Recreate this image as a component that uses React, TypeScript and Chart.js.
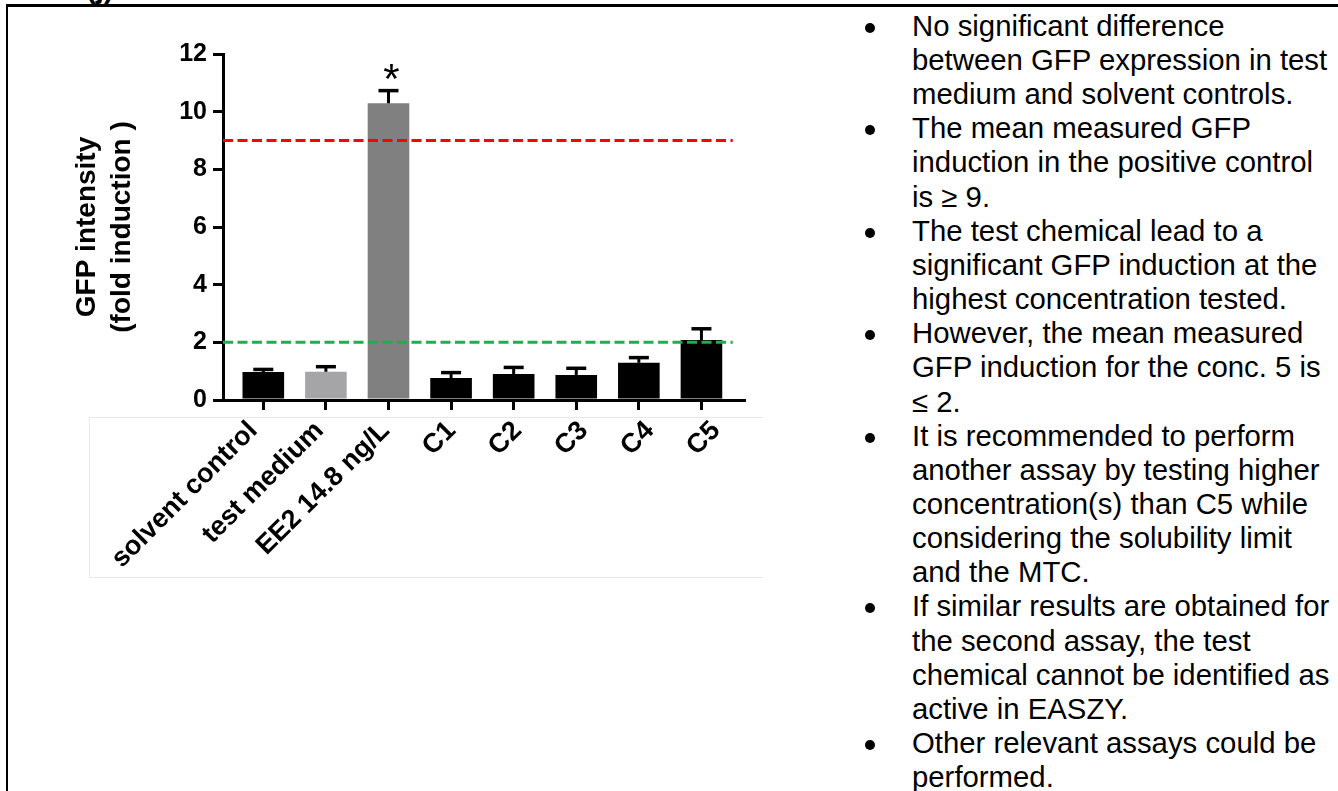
import React, { useEffect, useRef } from "react";
import { Chart, registerables } from "chart.js";

Chart.register(...registerables);

// ---- data ----
const categories = ["solvent control", "test medium", "EE2 14.8 ng/L", "C1", "C2", "C3", "C4", "C5"];
const meanValues = [0.97, 0.98, 10.29, 0.76, 0.9, 0.87, 1.29, 2.08];
const errorValues = [0.09, 0.175, 0.44, 0.19, 0.23, 0.23, 0.18, 0.39];
const barColors = ["#000000", "#a5a5a8", "#808080", "#000000", "#000000", "#000000", "#000000", "#000000"];
const significance = ["", "", "*", "", "", "", "", ""];
const yTicks = [0, 2, 4, 6, 8, 10, 12];
const thresholdValues = [9, 2];
const thresholdColors = ["#ff0000", "#1fae4b"];
const yTitle = ["GFP intensity", "(fold induction )"];

const notes: string[][] = [
  ["No significant difference", "between GFP expression in test", "medium and solvent controls."],
  ["The mean measured GFP", "induction in the positive control", "is \u2265 9."],
  ["The test chemical lead to a", "significant GFP induction at the", "highest concentration tested."],
  ["However, the mean measured", "GFP induction for the conc. 5 is", "\u2264 2."],
  [
    "It is recommended to perform",
    "another assay by testing higher",
    "concentration(s) than C5 while",
    "considering the solubility limit",
    "and the MTC.",
  ],
  ["If similar results are obtained for", "the second assay, the test", "chemical cannot be identified as", "active in EASZY."],
  ["Other relevant assays could be", "performed."],
];

const FONT = "'Liberation Sans', Arial, sans-serif";
// bar axis range
const X_MIN = -0.644;
const X_MAX = 7.68;
// label axis range (the category labels in the picture are spread slightly wider than the bars)
const LABEL_MIN = -0.458;
const LABEL_MAX = 7.424;
const LINE_END = 7.5;

const errorBarPlugin = {
  id: "errorBars",
  afterDatasetsDraw(chart: any) {
    const ctx = chart.ctx;
    const meta = chart.getDatasetMeta(0);
    const yScale = chart.scales.y;
    ctx.save();
    ctx.strokeStyle = "#000";
    ctx.lineCap = "butt";
    meta.data.forEach((bar: any, i: number) => {
      const top = yScale.getPixelForValue(meanValues[i]);
      const capY = yScale.getPixelForValue(meanValues[i] + errorValues[i]);
      ctx.lineWidth = 3;
      ctx.beginPath();
      ctx.moveTo(bar.x, top);
      ctx.lineTo(bar.x, capY);
      ctx.stroke();
      ctx.lineWidth = 3.5;
      ctx.beginPath();
      ctx.moveTo(bar.x - 10, capY);
      ctx.lineTo(bar.x + 10, capY);
      ctx.stroke();
      if (significance[i]) {
        ctx.font = `42px ${FONT}`;
        ctx.fillStyle = "#000";
        ctx.textAlign = "center";
        ctx.textBaseline = "alphabetic";
        const m = ctx.measureText(significance[i]);
        const cy = capY - 19;
        const base = cy + (m.actualBoundingBoxAscent - m.actualBoundingBoxDescent) / 2;
        ctx.fillText(significance[i], bar.x + 3, base);
      }
    });
    ctx.restore();
  },
};

function BarChart() {
  const ref = useRef<HTMLCanvasElement | null>(null);
  useEffect(() => {
    if (!ref.current) return;
    const chart = new Chart(ref.current, {
      type: "bar",
      data: {
        datasets: [
          {
            type: "bar",
            xAxisID: "x",
            yAxisID: "y",
            data: categories.map((_, i) => ({ x: i, y: meanValues[i] })),
            backgroundColor: barColors,
            borderWidth: 0,
            barPercentage: 0.665,
            categoryPercentage: 1,
            order: 2,
          } as any,
          ...thresholdValues.map((v, k) => ({
            type: "line",
            xAxisID: "x",
            yAxisID: "y",
            data: [
              { x: X_MIN, y: v },
              { x: LINE_END, y: v },
            ],
            borderColor: thresholdColors[k],
            borderWidth: 3,
            borderDash: [10, 4.5],
            pointRadius: 0,
            fill: false,
            order: 1,
          })) as any[],
        ],
      },
      options: {
        animation: false,
        responsive: false,
        maintainAspectRatio: false,
        layout: { padding: { left: 0, top: 54, right: 56, bottom: 0 } },
        plugins: { legend: { display: false }, tooltip: { enabled: false } },
        scales: {
          x: {
            type: "linear",
            position: "bottom",
            weight: 0,
            min: X_MIN,
            max: X_MAX,
            offset: false,
            afterBuildTicks: (s: any) => {
              s.ticks = categories.map((_, i) => ({ value: i }));
            },
            afterFit: (s: any) => {
              s.height = 12;
            },
            ticks: { display: false },
            grid: {
              display: true,
              offset: false,
              drawOnChartArea: false,
              drawTicks: true,
              tickLength: 10,
              color: "#000",
              lineWidth: 3,
            },
            border: { display: true, color: "#000", width: 3 },
          },
          xLabels: {
            type: "linear",
            position: "bottom",
            weight: 1,
            min: LABEL_MIN,
            max: LABEL_MAX,
            offset: false,
            afterBuildTicks: (s: any) => {
              s.ticks = categories.map((_, i) => ({ value: i }));
            },
            afterFit: (s: any) => {
              s.height = 188;
            },
            ticks: {
              autoSkip: false,
              maxRotation: 45,
              minRotation: 45,
              color: "#000",
              padding: 3,
              font: { family: FONT, size: 27, weight: "bold" },
              callback: (v: any) => categories[v] ?? "",
            },
            grid: { display: false, drawTicks: false, drawOnChartArea: false },
            border: { display: false },
          },
          y: {
            type: "linear",
            min: 0,
            max: 12,
            afterBuildTicks: (s: any) => {
              s.ticks = yTicks.map((v) => ({ value: v }));
            },
            afterFit: (s: any) => {
              s.width = 223;
            },
            ticks: {
              color: "#000",
              padding: 6,
              font: { family: FONT, size: 25, weight: "bold" },
            },
            grid: { display: true, drawOnChartArea: false, drawTicks: true, tickLength: 10, color: "#000", lineWidth: 3 },
            border: { display: true, color: "#000", width: 3 },
            title: {
              display: true,
              text: yTitle,
              color: "#000",
              font: { family: FONT, size: 28, weight: "bold", lineHeight: 1.25 },
              padding: { top: 69.5, bottom: 0 },
            },
          },
        },
      } as any,
      plugins: [errorBarPlugin],
    });
    return () => chart.destroy();
  }, []);
  return (
    <canvas
      ref={ref}
      width={800}
      height={600}
      style={{ position: "absolute", left: 0, top: 0, width: 800, height: 600, display: "block" }}
    />
  );
}

export default function App() {
  return (
    <div
      style={{
        position: "fixed",
        left: 0,
        top: 0,
        width: 1338,
        height: 791,
        overflow: "hidden",
        background: "#fff",
        fontFamily: FONT,
      }}
    >
      {/* faint picture frame */}
      <div style={{ position: "absolute", left: 89, top: 417, width: 674, height: 1, background: "#e8e8e8" }} />
      <div style={{ position: "absolute", left: 89, top: 577, width: 674, height: 1, background: "#e8e8e8" }} />
      <div style={{ position: "absolute", left: 89, top: 417, width: 1, height: 161, background: "#e8e8e8" }} />
      {/* table frame */}
      <div style={{ position: "absolute", left: 6, top: 4, width: 1332, height: 2.5, background: "#000" }} />
      <div style={{ position: "absolute", left: 6, top: 4, width: 2, height: 787, background: "#000" }} />
      <div
        style={{
          position: "absolute",
          left: 86,
          top: -27,
          fontSize: 29.33,
          lineHeight: "29.33px",
          fontWeight: "bold",
          whiteSpace: "nowrap",
        }}
      >
        (j)
      </div>
      <BarChart />
      <div
        style={{
          position: "absolute",
          left: 912,
          top: 8.8,
          fontSize: 29.33,
          lineHeight: "34.15px",
          color: "#000",
        }}
      >
        {notes.map((para, p) => (
          <div key={p} style={{ position: "relative" }}>
            <span
              style={{
                position: "absolute",
                left: -47,
                top: 14,
                width: 10,
                height: 10,
                borderRadius: "50%",
                background: "#000",
              }}
            />
            {para.map((line, l) => (
              <div key={l} style={{ whiteSpace: "nowrap" }}>
                {line}
              </div>
            ))}
          </div>
        ))}
      </div>
    </div>
  );
}
